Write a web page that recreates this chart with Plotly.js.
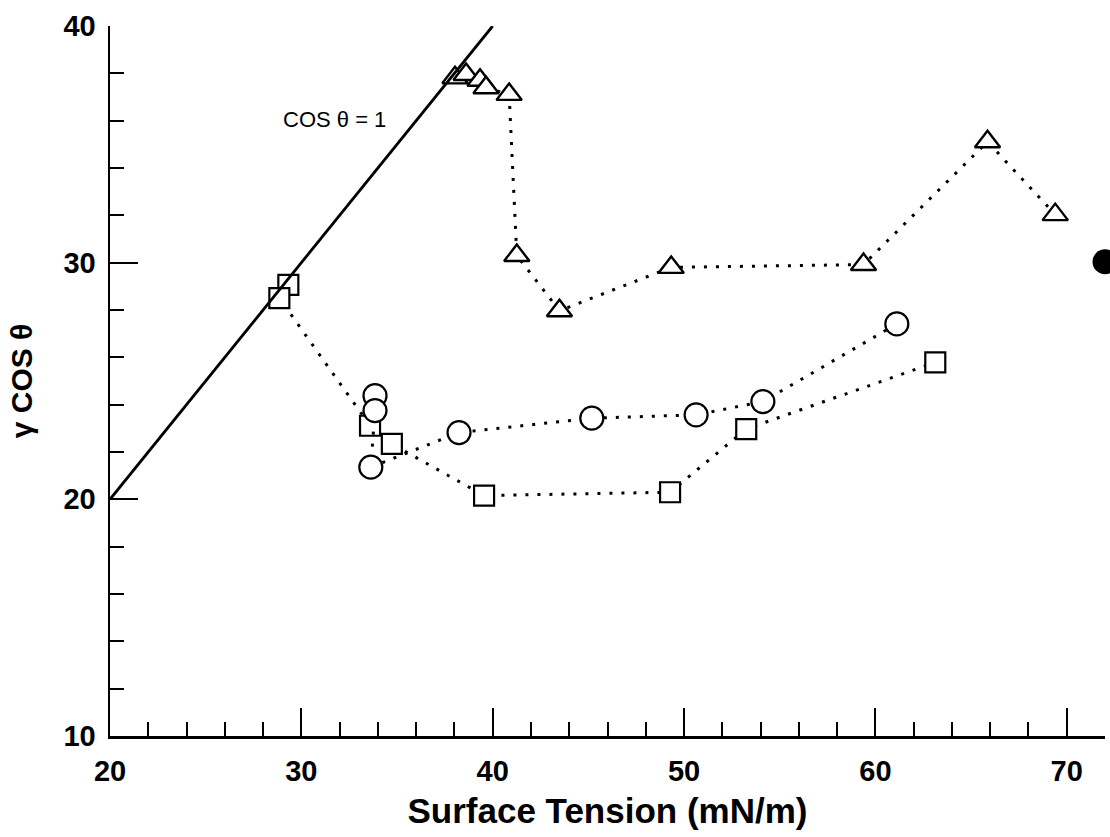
<!DOCTYPE html>
<html>
<head>
<meta charset="utf-8">
<script src="https://cdn.plot.ly/plotly-3.0.1.min.js"></script>
<style>
  html, body { margin: 0; padding: 0; background: #ffffff; }
  #chart { width: 1110px; height: 837px; }
</style>
</head>
<body>
<div id="chart"></div>
<script>
// Triangle series
const triX = [38.03, 38.61, 39.34, 39.65, 40.86, 41.26, 43.49, 49.33, 59.38, 65.86, 69.40];
const triY = [37.81, 37.95, 37.71, 37.39, 37.11, 30.30, 27.97, 29.80, 29.92, 35.11, 32.03];
// Square series
const sqX = [29.32, 28.85, 33.59, 34.73, 39.55, 49.27, 53.25, 63.13];
const sqY = [29.06, 28.50, 23.11, 22.34, 20.16, 20.30, 22.97, 25.79];
// Circle series
const circX = [33.85, 33.85, 33.63, 38.24, 45.18, 50.63, 54.12, 61.12];
const circY = [24.38, 23.75, 21.36, 22.82, 23.43, 23.57, 24.13, 27.41];
// Filled reference point
const filledX = [72.0];
const filledY = [30.04];
// Line cos θ = 1 (γcosθ = γ)
const refX = [20, 40];
const refY = [20, 40];

const FONT = "Liberation Sans, Arial, Helvetica, sans-serif";
const dotted = {color: "black", width: 3, dash: "3px,9px"};

const traces = [
  {
    x: triX, y: triY, type: "scatter", mode: "lines+markers",
    line: dotted,
    marker: {symbol: "triangle-up", size: 22, color: "white", line: {color: "black", width: 2.4}},
    showlegend: false, hoverinfo: "x+y"
  },
  {
    x: sqX, y: sqY, type: "scatter", mode: "lines+markers",
    line: dotted,
    marker: {symbol: "square", size: 20, color: "white", line: {color: "black", width: 2.2}},
    showlegend: false, hoverinfo: "x+y"
  },
  {
    x: circX, y: circY, type: "scatter", mode: "lines+markers",
    line: dotted,
    marker: {symbol: "circle", size: 23, color: "white", line: {color: "black", width: 2.2}},
    showlegend: false, hoverinfo: "x+y"
  },
  {
    x: filledX, y: filledY, type: "scatter", mode: "markers",
    marker: {symbol: "circle", size: 25, color: "black"},
    cliponaxis: false, showlegend: false, hoverinfo: "x+y"
  },
  {
    x: refX, y: refY, type: "scatter", mode: "lines",
    line: {color: "black", width: 2.8},
    showlegend: false, hoverinfo: "skip"
  }
];

const layout = {
  width: 1110, height: 837,
  margin: {l: 110, r: 5, t: 26, b: 101},
  paper_bgcolor: "white", plot_bgcolor: "white",
  font: {family: FONT, color: "black"},
  xaxis: {
    range: [20, 72], tick0: 20, dtick: 10,
    ticks: "inside", ticklen: 28, tickwidth: 2, tickcolor: "black",
    minor: {dtick: 2, tick0: 20, ticks: "inside", ticklen: 14, tickwidth: 2, tickcolor: "black"},
    showline: true, linewidth: 2.5, linecolor: "black",
    showgrid: false, zeroline: false,
    tickfont: {family: FONT, size: 29, weight: 700, color: "black"},
    ticklabelstandoff: 8,
    title: {text: "Surface Tension (mN/m)", font: {family: FONT, size: 35, weight: 700, color: "black"}, standoff: 12},
    fixedrange: true
  },
  yaxis: {
    range: [10, 40], tick0: 10, dtick: 10,
    ticks: "inside", ticklen: 28, tickwidth: 2, tickcolor: "black",
    minor: {dtick: 2, tick0: 10, ticks: "inside", ticklen: 14, tickwidth: 2, tickcolor: "black"},
    showline: true, linewidth: 2.5, linecolor: "black",
    showgrid: false, zeroline: false,
    tickfont: {family: FONT, size: 29, weight: 700, color: "black"},
    ticklabelstandoff: 6,
    title: {text: "γ COS θ\u00a0\u00a0\u00a0", font: {family: FONT, size: 30, weight: 700, color: "black"}, standoff: 22},
    fixedrange: true
  },
  annotations: [
    {x: 31.71, y: 36.03, xref: "x", yref: "y", text: "COS θ = 1", showarrow: false,
     font: {family: FONT, size: 22, color: "black"}}
  ]
};

Plotly.newPlot("chart", traces, layout, {displayModeBar: false, staticPlot: true});
</script>
</body>
</html>
